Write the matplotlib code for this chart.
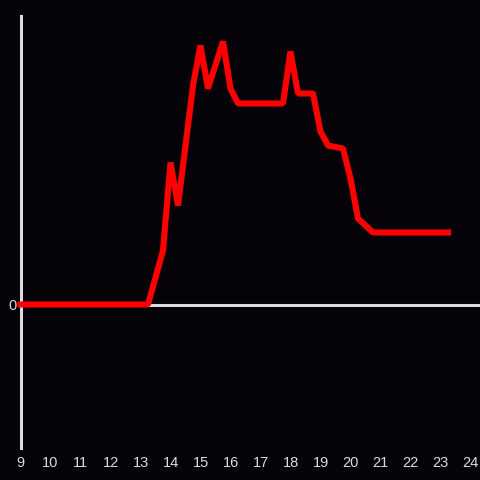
import matplotlib
matplotlib.use("Agg")
import matplotlib.pyplot as plt

hours = [9.0, 13.25, 13.75, 14.0, 14.25, 14.75, 15.0, 15.25, 15.75, 16.0, 16.25,
         17.75, 18.0, 18.25, 18.75, 19.0, 19.25, 19.75, 20.0, 20.25, 20.75, 23.25]
values = [0, 0, 54, 142, 99, 219, 259, 216, 263, 216, 201,
          201, 253, 211, 211, 173, 159, 156, 126, 86, 72, 72]
xticks = list(range(9, 25))
yticks = [0]

bg = "#050308"
fg = "#dcdcdc"

fig = plt.figure(figsize=(4.8, 4.8), dpi=100, facecolor=bg)
W = H = 480.0
left, right, top, bottom = 20.5, 480.0, 16.0, 448.0
ax = fig.add_axes([left / W, 1 - bottom / H, (right - left) / W, (bottom - top) / H])
ax.set_facecolor(bg)

ax.plot(hours, values, color="#ff0000", lw=4.4, solid_capstyle="projecting",
        solid_joinstyle="bevel", zorder=3, clip_on=False)
ax.axhline(0, color=fg, lw=2.2, zorder=2)

ax.set_xlim(9, 9 + (right - left) / 30.0)
ax.set_ylim(-(bottom - 304.5), 304.5 - top)

for s in ["top", "right", "bottom"]:
    ax.spines[s].set_visible(False)
ax.spines["left"].set_color(fg)
ax.spines["left"].set_linewidth(2.2)

ax.set_xticks(xticks)
ax.set_xticklabels([str(t) for t in xticks])
ax.set_yticks(yticks)
ax.set_yticklabels(["0"])
ax.tick_params(axis="both", length=0, colors=fg, labelsize=10.5)
ax.tick_params(axis="x", pad=5.5)
ax.tick_params(axis="y", pad=3)
for lab in ax.get_xticklabels() + ax.get_yticklabels():
    lab.set_fontfamily("Liberation Sans")

fig.savefig("out.png", dpi=100, facecolor=bg)
